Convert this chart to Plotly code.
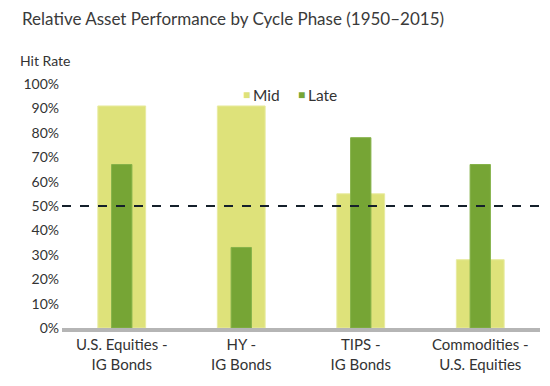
import plotly.graph_objects as go

categories = ["U.S. Equities -<br>IG Bonds", "HY -<br>IG Bonds", "TIPS -<br>IG Bonds", "Commodities -<br>U.S. Equities"]
mid_values = [91, 91, 55, 28]
late_values = [67, 33, 78, 67]
y_ticks = [0, 10, 20, 30, 40, 50, 60, 70, 80, 90, 100]
y_tick_labels = [f"{v}%" for v in y_ticks]
threshold = 50

font_family = "Lato, Noto Sans, sans-serif"
text_color = "#333333"
mid_color = "#dee27a"
late_color = "#76a535"

fig = go.Figure()
fig.add_trace(go.Bar(
    x=categories, y=mid_values, name="Mid", width=0.40,
    marker=dict(color=mid_color, line=dict(color="#e8eba0", width=1)),
))
fig.add_trace(go.Bar(
    x=categories, y=late_values, name="Late", width=0.17,
    marker=dict(color=late_color, line=dict(color="#86b24a", width=1)),
))

fig.add_shape(type="line", xref="x domain", yref="y", x0=0, x1=1, y0=threshold, y1=threshold,
              line=dict(color="#15202b", width=2.2, dash="dash"))

def legend_item(x, label, color):
    return [
        dict(text="■", xref="paper", yref="paper", x=x, y=0.955, xanchor="left", yanchor="middle",
             showarrow=False, font=dict(size=12, color=color)),
        dict(text=label, xref="paper", yref="paper", x=x + 0.021, y=0.955, xanchor="left",
             yanchor="middle", showarrow=False, font=dict(size=15.5, color=text_color)),
    ]

annotations = [
    dict(text="Relative Asset Performance by Cycle Phase (1950–2015)", xref="paper", yref="paper",
         x=-0.088, y=1.27, xanchor="left", yanchor="middle", showarrow=False,
         font=dict(size=17, color="#3a3a3a")),
    dict(text="Hit Rate", xref="paper", yref="paper", x=-0.092, y=1.095,
         xanchor="left", yanchor="middle", showarrow=False,
         font=dict(size=14, color=text_color)),
]
annotations += legend_item(0.375, "Mid", mid_color)
annotations += legend_item(0.49, "Late", late_color)

fig.update_layout(
    width=550, height=386,
    barmode="overlay",
    plot_bgcolor="white", paper_bgcolor="white",
    margin=dict(l=54, r=18, t=76, b=66),
    font=dict(family=font_family, size=14, color=text_color),
    showlegend=False,
    annotations=annotations,
)
fig.update_xaxes(showgrid=False, showline=True, linecolor="#b5b5b5", linewidth=4,
                 ticks="", automargin=False, tickfont=dict(size=15, color=text_color))
fig.update_yaxes(range=[0, 100], tickmode="array", tickvals=y_ticks, ticktext=y_tick_labels,
                 showgrid=False, zeroline=False, showline=False, ticks="", automargin=False,
                 ticklabelstandoff=2, tickfont=dict(size=14, color=text_color))

fig.write_html("out.html")
